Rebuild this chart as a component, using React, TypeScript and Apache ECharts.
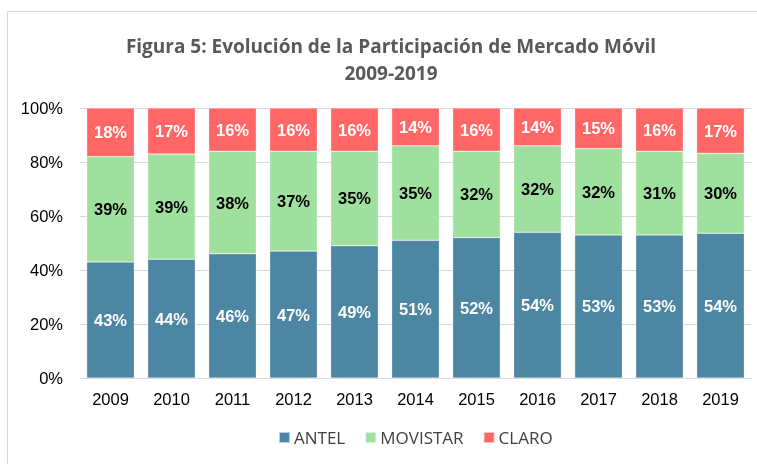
import React, { useEffect, useRef } from "react";
import * as echarts from "echarts";

const years = ["2009", "2010", "2011", "2012", "2013", "2014", "2015", "2016", "2017", "2018", "2019"];
const antel = [43, 44, 46, 47, 49, 51, 52, 54, 53, 53, 53.6];
const movistar = [39, 39, 38, 37, 35, 35, 32, 32, 32, 31, 29.6];
const claro = [18, 17, 16, 16, 16, 14, 16, 14, 15, 16, 16.8];
const yTicks = [0, 20, 40, 60, 80, 100];
const titleText = "Figura 5: Evolución de la Participación de Mercado Móvil\n2009-2019";

export default function App() {
  const ref = useRef<HTMLDivElement>(null);
  useEffect(() => {
    if (!ref.current) return;
    const chart = echarts.init(ref.current, undefined, { renderer: "svg" });
    const labelBase = {
      show: true,
      position: "inside",
      fontFamily: "Liberation Sans, Arial, sans-serif",
      fontSize: 16.5,
      fontWeight: "bold",
      formatter: (p: any) => Math.round(p.value) + "%",
    };
    const mk = (name: string, data: number[], color: string, labelColor: string) => ({
      name,
      type: "bar",
      stack: "total",
      data,
      barCategoryGap: "22%",
      itemStyle: { color, borderColor: "rgba(255,255,255,0.6)", borderWidth: 0.5 },
      label: { ...labelBase, color: labelColor },
      emphasis: { disabled: true },
    });
    chart.setOption({
      animation: false,
      graphic: [
        {
          type: "rect",
          shape: { x: 7.5, y: 11.5, width: 800, height: 500 },
          style: { fill: "none", stroke: "#d9d9d9", lineWidth: 1 },
          silent: true,
        },
        {
          type: "text",
          x: 391,
          y: 32,
          silent: true,
          style: {
            text: titleText,
            textAlign: "center",
            textVerticalAlign: "top",
            fontFamily: "Open Sans, sans-serif",
            fontSize: 19,
            fontWeight: "bold",
            fill: "#595959",
            lineHeight: 27,
          },
        },
      ],
      legend: {
        bottom: 13,
        left: 273,
        itemWidth: 11,
        itemHeight: 11,
        itemGap: 19,
        icon: "rect",
        textStyle: { fontFamily: "Open Sans, sans-serif", fontSize: 17, color: "#404040", padding: [0, 0, 0, -1] },
        data: ["ANTEL", "MOVISTAR", "CLARO"],
      },
      grid: { left: 80, right: 6, top: 108, bottom: 86 },
      xAxis: {
        type: "category",
        data: years,
        axisLine: { lineStyle: { color: "#d9d9d9" } },
        axisTick: { show: false },
        axisLabel: { fontFamily: "Liberation Sans, Arial, sans-serif", fontSize: 16.5, color: "#000", margin: 12 },
      },
      yAxis: {
        type: "value",
        min: yTicks[0],
        max: yTicks[yTicks.length - 1],
        interval: 20,
        axisLine: { show: false },
        axisTick: { show: false },
        splitLine: { lineStyle: { color: "#d9d9d9" } },
        axisLabel: {
          fontFamily: "Liberation Sans, Arial, sans-serif",
          fontSize: 16.5,
          color: "#000",
          margin: 17,
          formatter: (v: number) => v + "%",
        },
      },
      series: [
        mk("ANTEL", antel, "#4D86A3", "#fff"),
        mk("MOVISTAR", movistar, "#A0E09E", "#000"),
        mk("CLARO", claro, "#FF6666", "#fff"),
      ],
    });
    return () => chart.dispose();
  }, []);
  return <div ref={ref} style={{ position: "fixed", left: 0, top: 0, width: 757, height: 464 }} />;
}
